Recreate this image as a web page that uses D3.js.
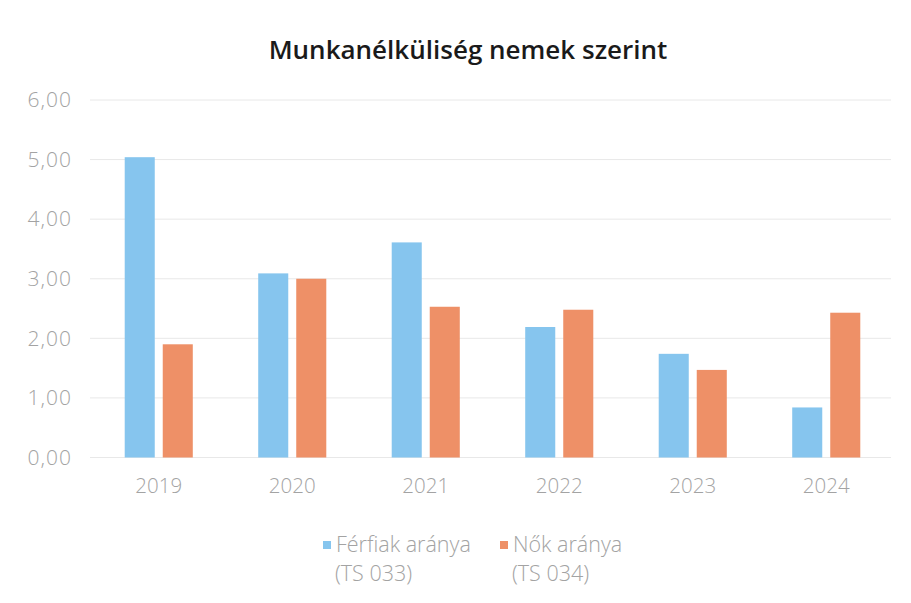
<!DOCTYPE html>
<html>
<head>
<meta charset="utf-8">
<script src="https://cdnjs.cloudflare.com/ajax/libs/d3/7.8.5/d3.min.js"></script>
<style>
  html, body { margin: 0; padding: 0; background: #fff; }
  svg text { font-family: "Open Sans", "DejaVu Sans", sans-serif; }
</style>
</head>
<body>
<div id="chart"></div>
<script>
// data
const years = ['2019', '2020', '2021', '2022', '2023', '2024'];
const ferfiak = [5.04, 3.09, 3.61, 2.19, 1.74, 0.84];
const nok = [1.90, 3.00, 2.53, 2.48, 1.47, 2.43];
const yTicks = [0, 1, 2, 3, 4, 5, 6];
const seriesNames = ['Férfiak aránya', 'Nők aránya'];
const seriesCodes = ['(TS 033)', '(TS 034)'];
const colors = ['#86c5ee', '#ee9067'];

const width = 911, height = 603;
const margin = {top: 100, right: 18, bottom: 145.5, left: 92};

const svg = d3.select('#chart').append('svg')
  .attr('width', width)
  .attr('height', height);

const rows = years.map((y, i) => ({year: y, values: [ferfiak[i], nok[i]]}));

const x0 = d3.scaleBand()
  .domain(years)
  .range([margin.left, width - margin.right])
  .padding(0);

const x1 = d3.scaleBand()
  .domain([0, 1])
  .range([0, x0.bandwidth()])
  .paddingInner(0.21)
  .paddingOuter(0.86);

const y = d3.scaleLinear()
  .domain([0, 6])
  .range([height - margin.bottom, margin.top]);

// title
svg.append('text')
  .attr('x', 468)
  .attr('y', 59)
  .attr('text-anchor', 'middle')
  .style('font-size', '26px')
  .style('font-weight', 600)
  .style('fill', '#1a1a1a')
  .text('Munkanélküliség nemek szerint');

// gridlines
svg.append('g')
  .selectAll('line')
  .data(yTicks)
  .enter().append('line')
  .attr('x1', margin.left - 2)
  .attr('x2', width - margin.right - 2)
  .attr('y1', d => y(d))
  .attr('y2', d => y(d))
  .style('stroke', '#e8e8e8')
  .style('stroke-width', 1);

// y axis labels
const fmt = d => d3.format('.2f')(d).replace('.', ',');
const yAxis = d3.axisLeft(y).tickValues(yTicks).tickFormat(fmt).tickSize(0).tickPadding(0);
const yG = svg.append('g')
  .attr('transform', 'translate(72,0)')
  .call(yAxis);
yG.select('.domain').remove();
yG.selectAll('text')
  .style('font-size', '21px')
  .style('font-weight', 300)
  .style('letter-spacing', '1px')
  .style('font-family', '"Open Sans", sans-serif')
  .style('fill', '#a3a3a3');

// x axis labels
const xAxis = d3.axisBottom(x0).tickSize(0).tickPadding(0);
const xG = svg.append('g')
  .attr('transform', 'translate(0,' + (y(0) + 21) + ')')
  .call(xAxis);
xG.select('.domain').remove();
xG.selectAll('text')
  .style('font-size', '20.5px')
  .style('font-weight', 300)
  .style('font-family', '"Open Sans", sans-serif')
  .style('fill', '#a3a3a3');

// bars
const groups = svg.append('g')
  .selectAll('g')
  .data(rows)
  .enter().append('g')
  .attr('transform', d => 'translate(' + x0(d.year) + ',0)');

groups.selectAll('rect')
  .data(d => d.values.map((v, i) => ({i: i, v: v})))
  .enter().append('rect')
  .attr('x', d => x1(d.i))
  .attr('width', x1.bandwidth())
  .attr('y', d => y(d.v))
  .attr('height', d => y(0) - y(d.v))
  .style('fill', d => colors[d.i]);

// legend
const legendX = [323, 500];
const legend = svg.selectAll('.legend')
  .data(seriesNames)
  .enter().append('g')
  .attr('class', 'legend')
  .attr('transform', (d, i) => 'translate(' + legendX[i] + ',541)');

legend.append('rect')
  .attr('width', 8)
  .attr('height', 8)
  .style('fill', (d, i) => colors[i]);

legend.append('text')
  .attr('x', 13)
  .attr('y', 11)
  .style('font-size', '21.5px')
  .style('font-weight', 300)
  .style('fill', '#a3a3a3')
  .text(d => d);

legend.append('text')
  .attr('x', 12)
  .attr('y', 40)
  .style('font-size', '21.5px')
  .style('font-weight', 300)
  .style('fill', '#a3a3a3')
  .text((d, i) => seriesCodes[i]);
</script>
</body>
</html>
